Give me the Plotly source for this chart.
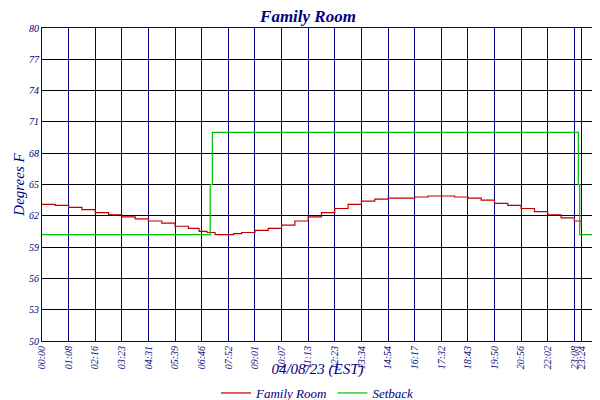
import plotly.graph_objects as go

tick_labels = ["00:00","01:08","02:16","03:23","04:31","05:39","06:46","07:52","09:01","10:07",
               "11:13","12:23","13:34","14:54","16:17","17:32","18:43","19:50","20:56","22:02","23:08","23:24"]
tick_pos = list(range(21)) + [20.26]

room_x = [0,0.5,1,1.5,2,2.5,3,3.5,4,4.5,5,5.5,5.9,6.2,6.5,6.9,7.2,7.5,8,8.5,9,9.5,10,10.5,11,11.5,12,12.5,13,13.5,14,14.5,15,15.5,16,16.5,17,17.5,18,18.5,19,19.5,20,20.26]
room_y = [63.1,63.0,62.8,62.6,62.3,62.1,61.9,61.7,61.5,61.3,61.0,60.8,60.5,60.4,60.2,60.2,60.3,60.4,60.6,60.8,61.1,61.5,61.9,62.3,62.7,63.1,63.4,63.6,63.7,63.7,63.8,63.9,63.9,63.8,63.7,63.5,63.2,63.0,62.7,62.4,62.1,61.8,61.5,61.0]

set_x = [0, 6.25, 6.32, 6.4, 20.1, 20.15, 20.2, 20.7]
set_y = [60.2, 60.2, 65.0, 70.0, 70.0, 65.0, 60.2, 60.2]

navy = "#000080"
fig = go.Figure()
fig.add_trace(go.Scatter(x=room_x, y=room_y, mode="lines", line=dict(color="#c00000", width=1.2, shape="hv"), name="Family Room"))
fig.add_trace(go.Scatter(x=set_x, y=set_y, mode="lines", line=dict(color="#00c000", width=1.2, shape="hv"), name="Setback"))
fig.add_trace(go.Scatter(x=[None], y=[None], yaxis="y2", showlegend=False))

tf = dict(size=10, style="italic", family="Liberation Serif", color=navy)
fig.update_layout(
    width=600, height=400, margin=dict(l=34, r=15, t=20, b=67, autoexpand=False),
    paper_bgcolor="white", plot_bgcolor="white",
    title=dict(text="<b><i>Family Room</i></b>", x=0.5, xanchor="center", yref="container", y=0.995, yanchor="top",
               font=dict(family="Liberation Serif", color=navy, size=17)),
    font=dict(family="Liberation Serif", color=navy, size=12),
    showlegend=True,
    legend=dict(orientation="h", x=0.5, xanchor="center", yref="container", y=0.0, yanchor="bottom",
                font=dict(family="Liberation Serif", color=navy, size=13, style="italic")),
    xaxis=dict(range=[0, 20.7], tickvals=tick_pos, ticktext=tick_labels, tickangle=-90, automargin=False,
               showgrid=True, gridcolor=navy, gridwidth=1, showline=True, linecolor=navy, mirror=True,
               tickfont=tf, ticks="", 
               title=dict(text="<i>04/08/23 (EST)</i>", font=dict(size=15, family="Liberation Serif", color=navy), standoff=3)),
    yaxis=dict(range=[50, 80], tickvals=list(range(50, 81, 3)), showgrid=True, gridcolor="black", gridwidth=1,
               showline=True, linecolor=navy, mirror=True, automargin=False, tickfont=tf,
               title=dict(text="<i>Degrees F</i>", font=dict(size=15, family="Liberation Serif", color=navy), standoff=0)),
    yaxis2=dict(range=[50, 80], tickvals=list(range(50, 81, 3)), overlaying="y", side="right", showgrid=False,
                automargin=False, tickfont=tf, ticklabelstandoff=0),
)
fig.write_html("out.html")
